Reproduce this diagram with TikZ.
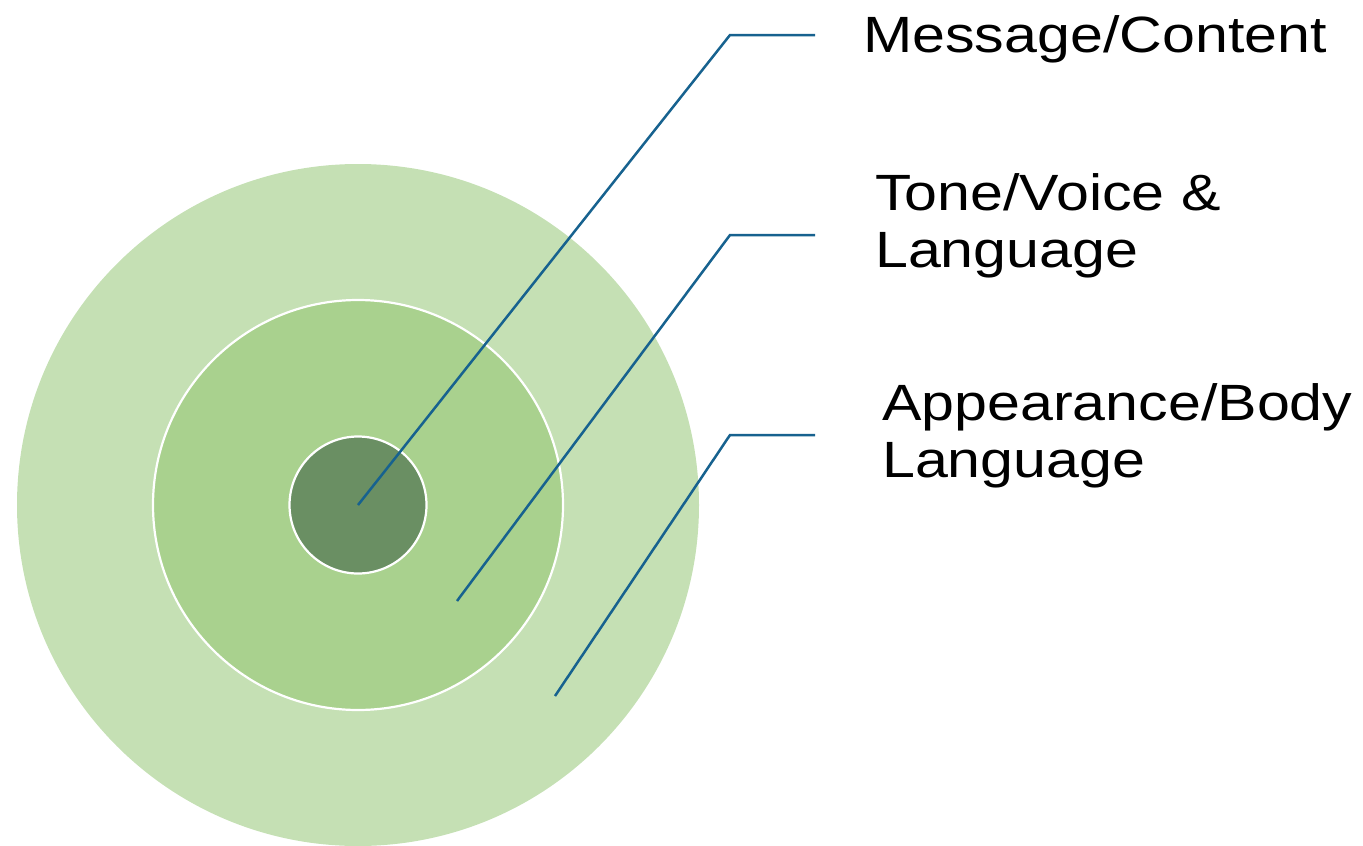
\documentclass[tikz,border=0pt]{standalone}
\usepackage{fontspec}
\setmainfont{Liberation Sans}
\definecolor{ringouter}{HTML}{C5E0B4}
\definecolor{ringmiddle}{HTML}{A9D18E}
\definecolor{ringinner}{HTML}{6A8F63}
\definecolor{leader}{HTML}{17628F}
\tikzset{
  ring/.style={circle, inner sep=0pt, draw=white, line width=2.2pt},
  leaderline/.style={draw=leader, line width=2.5pt, line join=miter},
  caption/.style={anchor=base west, inner sep=0pt, align=left,
    font=\fontsize{51}{57}\selectfont},
}
\newcommand{\wide}[1]{\scalebox{1.16}[1]{#1}}
\begin{document}
\begin{tikzpicture}[x=1pt, y=-1pt]
  \useasboundingbox (0,0) rectangle (1363,846);
  \begin{scope}
    \clip (0,0) rectangle (1363,846);
    % concentric rings
    \node[ring, draw=none, fill=ringouter, minimum size=682pt] (outer) at (358,505) {};
    \node[ring, fill=ringmiddle, minimum size=410pt] (middle) at (358,505) {};
    \node[ring, fill=ringinner, minimum size=137pt] (inner) at (358,505) {};
  \end{scope}

  % leader line anchors
  \coordinate (s1) at (358,505);
  \coordinate (k1) at (730,35);
  \coordinate (e1) at (815,35);
  \coordinate (s2) at (457,601);
  \coordinate (k2) at (730,235);
  \coordinate (e2) at (815,235);
  \coordinate (s3) at (555,696);
  \coordinate (k3) at (730,435);
  \coordinate (e3) at (815,435);

  \draw[leaderline] (s1) -- (k1) -- (e1);
  \draw[leaderline] (s2) -- (k2) -- (e2);
  \draw[leaderline] (s3) -- (k3) -- (e3);

  % captions (base anchor sits on the last line)
  \node[caption] (t1) at (863,52) {\wide{Message/Content}};
  \node[caption] (t2) at (875,267) {\wide{Tone/Voice \&}\\\wide{Language}};
  \node[caption] (t3) at (882,477) {\wide{Appearance/Body}\\\wide{Language}};
\end{tikzpicture}
\end{document}
